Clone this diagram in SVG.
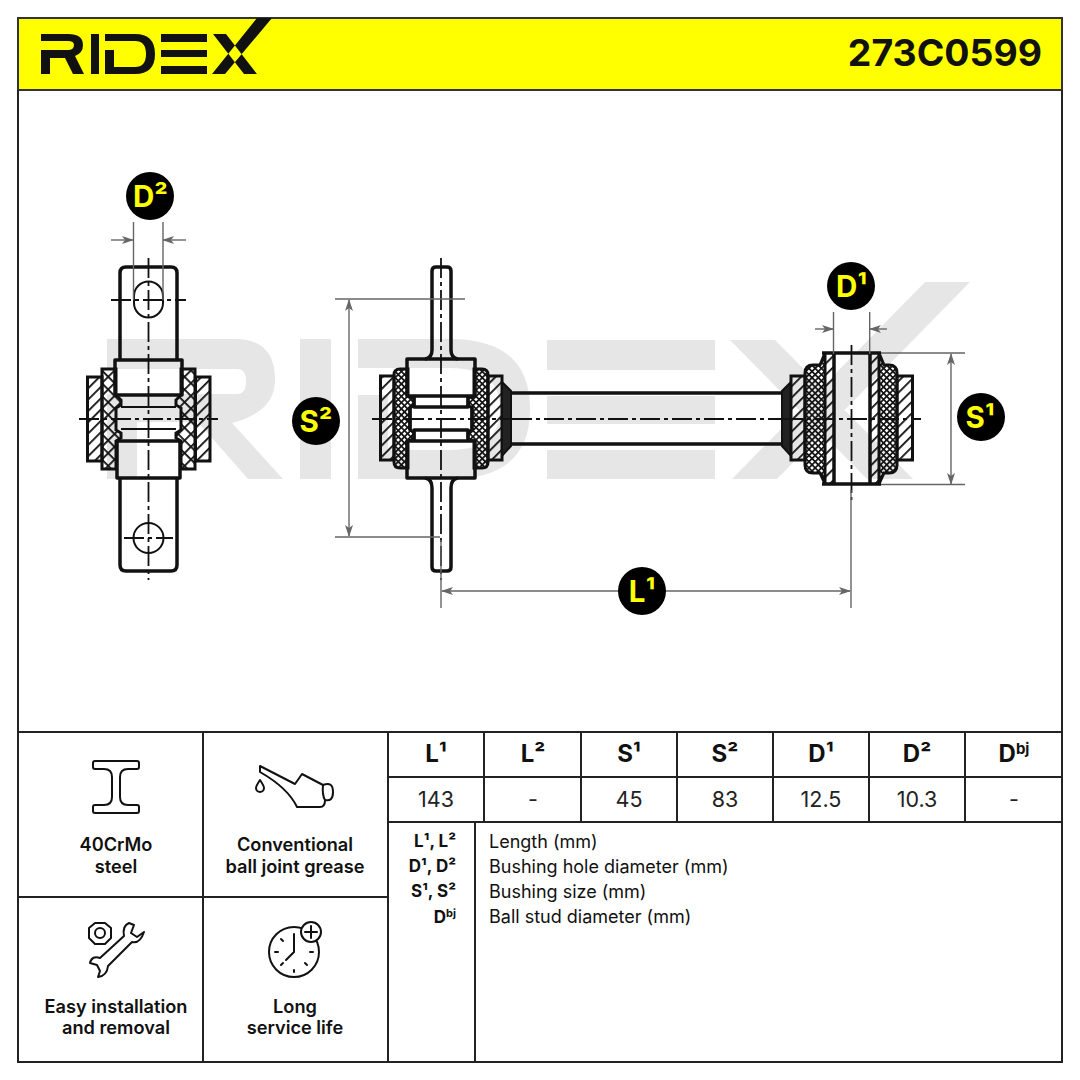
<svg xmlns="http://www.w3.org/2000/svg" width="1080" height="1080" viewBox="0 0 1080 1080">
<style>
text{font-family:Inter,"Liberation Sans",sans-serif;fill:#111}
.t{font-size:18.2px;font-weight:600;text-anchor:middle}
.h{font-size:24px;font-weight:700;text-anchor:middle}
.v{font-size:21.5px;text-anchor:middle;fill:#222}
.k{font-size:17px;font-weight:700;text-anchor:end}
.d{font-size:18px}
.b{font-size:29.500px;font-weight:700;fill:#ff0;text-anchor:middle}
.o{fill:none;stroke:#111;stroke-width:3.500;stroke-linejoin:round}
.n{fill:none;stroke:#111;stroke-width:2}
.c{fill:none;stroke:#111;stroke-width:1.800;stroke-dasharray:20 4 4 4}
.g{fill:none;stroke:#666;stroke-width:1.400}
.i{fill:none;stroke:#111;stroke-width:2;stroke-linejoin:round;stroke-linecap:round}
.l{fill:none;stroke:#222;stroke-width:2}
.ha{fill:url(#hatch);stroke:#111;stroke-width:3}
.hb{fill:url(#hatch);stroke:#111;stroke-width:1.500}
.cr{fill:url(#cross);stroke:#111;stroke-width:3}
.cf{fill:url(#fine);stroke:#111;stroke-width:3}
.bk{fill:#222;stroke:#111;stroke-width:2}
</style>
<defs>
<pattern id="hatch" width="8" height="8" patternUnits="userSpaceOnUse" patternTransform="rotate(45)"><rect width="1.800" height="8" fill="#111"/></pattern>
<pattern id="cross" width="9" height="9" patternUnits="userSpaceOnUse" patternTransform="rotate(45)"><rect width="1.800" height="9" fill="#111"/><rect width="9" height="1.800" fill="#111"/></pattern>
<pattern id="fine" width="4.400" height="4.400" patternUnits="userSpaceOnUse" patternTransform="rotate(45)"><rect width="1.700" height="4.400" fill="#111"/><rect width="4.400" height="1.700" fill="#111"/></pattern>
<marker id="ar" markerWidth="12" markerHeight="8" refX="11" refY="4" orient="auto-start-reverse" markerUnits="userSpaceOnUse"><path d="M0 0L12 4L0 8L3 4Z" fill="#666"/></marker>
</defs>
<rect width="1080" height="1080" fill="#fff"/>
<g id="watermark"><path fill="#e6e6e6" d="M107 339H235Q275 339 275 380Q275 412 232 423L283 479H248L198 422H137V479H107V394H237Q246 394 246 381Q246 369 237 369H107ZM300 339H331V479H300ZM358 339H450Q530 339 530 409Q530 479 450 479H358V395H388V450H450Q500 450 500 409Q500 368 450 368H358ZM547 340H715V370H547ZM547 396H715V424H547ZM547 450H715V479H547ZM730 340H775L913 479H867ZM925 282H970L777 479H732Z"/></g>
<g id="header">
<rect x="18" y="18" width="1044" height="72" fill="#ff0" stroke="#333" stroke-width="2"/>
<path fill="#111" d="M41 34H68Q83 34 83 45Q83 53 75 56L84 74H73L65 58H50V74H41V50H68Q74 50 74 45Q74 41 68 41H41ZM91 34H99V74H91ZM105 34H135Q155 34 155 54Q155 74 135 74H105V50H114V67H135Q146 67 146 54Q146 41 135 41H105ZM161 34H207V42H161ZM161 50H207V57H161ZM161 66H207V74H161ZM213 34H226L257 74H244ZM212 74H225L272 18H257Z"/>
<text x="1042" y="65.500" font-size="37.400" font-weight="700" text-anchor="end">273C0599</text>
</g>
<g id="view-left">
<path class="o" d="M120 360V273Q120 267 126 267H171Q177 267 177 273V360M120 478V565Q120 571 126 571H171Q177 571 177 565V478"/>
<path class="n" d="M134 296A14.500 14.500 0 0 1 163 296V303A14.500 14.500 0 0 1 134 303Z"/>
<circle class="n" cx="148.500" cy="538" r="15"/>
<rect class="ha" x="87.500" y="377" width="14.500" height="84"/><rect class="ha" x="195.500" y="377" width="14.500" height="84"/>
<path class="cr" d="M102 369H116V395L121 400V405L116 408V430L121 433V438L116 441V469H102Z"/>
<path class="cr" d="M195 369H181V395L176 400V405L181 408V430L176 433V438L181 441V469H195Z"/>
<path class="o" d="M115 360H182V395H115ZM117 441H180V478H117Z"/>
<path class="n" d="M121 407H176M121 429H176M116 407V429M181 407V429"/>
<path class="c" d="M148.500 258V580M79 419H218M111 300H186M124 538H173"/>
</g>
<g id="view-middle">
<path class="o" d="M432 350V271Q432 267 436 267H447Q451 267 451 271V350Q451 358 458 359M432 350Q432 358 425 359M432 488V567Q432 571 436 571H447Q451 571 451 567V488Q451 479 458 478M432 488Q432 479 425 478"/>
<rect class="ha" x="380.500" y="376" width="13.500" height="84"/><rect class="ha" x="488" y="376" width="14" height="84"/>
<path class="bk" d="M502 382L511 391V446L502 456Z"/>
<path class="cf" d="M400 369H408V396L414 398V405L410 408V430L414 432V439L408 441V468H400Q394 468 394 462V375Q394 369 400 369Z"/>
<path class="cf" d="M482 369H474V396L468 398V405L472 408V430L468 432V439L474 441V468H482Q488 468 488 462V375Q488 369 482 369Z"/>
<path class="o" d="M407 359H475V396H407ZM407 441H475V478H407ZM414 396V407H468V396M414 441V430H468V441M410 407V430M472 407V430"/>
<path class="c" d="M441 258V580M372 419H512"/>
</g>
<g id="view-shaft">
<path d="M511 393H782M511 444H782" class="o"/>
<path class="bk" d="M782 391L791 382V456L782 446Z"/>
<path class="c" d="M512 419H790"/>
</g>
<g id="view-right">
<rect class="ha" x="791" y="376" width="14" height="84"/><rect class="ha" x="897" y="376" width="15.500" height="84"/>
<path class="cf" d="M820 365H813Q805 365 805 373V465Q805 473 813 473H820L825 484V353Z"/>
<path class="cf" d="M884 365H889Q897 365 897 373V465Q897 473 889 473H884L879 484V353Z"/>
<path class="hb" d="M825 353H834V484H825Z"/><path class="hb" d="M870 353H879V484H870Z"/>
<path class="o" d="M822 353H881M822 484H881M834 354V483M870 354V483"/>
<path class="c" d="M851.500 345V500M783 419H921"/>
</g>
<g id="dimensions">
<path class="g" d="M133.500 222V300M163 222V300M833.500 312V354M869.700 312V354M881 353H965M881 484.500H965M335 299H465M335 537H440M441 540V608M851 490V608"/>
<path class="g" marker-end="url(#ar)" d="M111 240H133"/><path class="g" marker-end="url(#ar)" d="M186 240H163"/>
<path class="g" marker-end="url(#ar)" d="M815 329H833"/><path class="g" marker-end="url(#ar)" d="M887 329H870"/>
<path class="g" marker-start="url(#ar)" marker-end="url(#ar)" d="M951 354V484"/>
<path class="g" marker-start="url(#ar)" marker-end="url(#ar)" d="M349 300V536"/>
<path class="g" marker-start="url(#ar)" marker-end="url(#ar)" d="M442 591H850"/>
</g>
<g id="badge-d2"><circle cx="150" cy="196" r="24" fill="#000"/><text class="b" x="150.500" y="207">D²</text></g>
<g id="badge-d1"><circle cx="851" cy="286" r="24" fill="#000"/><text class="b" x="851.500" y="297">D¹</text></g>
<g id="badge-s1"><circle cx="981" cy="417" r="24" fill="#000"/><text class="b" x="980" y="428">S¹</text></g>
<g id="badge-s2"><circle cx="316" cy="421" r="24" fill="#000"/><text class="b" x="316" y="432">S²</text></g>
<g id="badge-l1"><circle cx="642" cy="591" r="24" fill="#000"/><text class="b" x="642" y="602">L¹</text></g>
<g id="table">
<path class="l" d="M18 90V1062H1062V90M18 732H1062"/>
<path class="l" d="M203 732V1062M388 732V1062M18 897H388M484 732V822M581 732V822M677 732V822M773 732V822M869 732V822M965 732V822M388 777H1062M388 822H1062M475 822V1062"/>
<text class="h" x="436" y="762">L¹</text><text class="h" x="533" y="762">L²</text><text class="h" x="629" y="762">S¹</text><text class="h" x="725" y="762">S²</text><text class="h" x="821" y="762">D¹</text><text class="h" x="917" y="762">D²</text>
<text class="h" x="1014" y="762">D<tspan font-size="15" dy="-8">bj</tspan></text>
<text class="v" x="436" y="807">143</text><text class="v" x="533" y="807">-</text><text class="v" x="629" y="807">45</text><text class="v" x="725" y="807">83</text><text class="v" x="821" y="807">12.5</text><text class="v" x="917" y="807">10.3</text><text class="v" x="1014" y="807">-</text>
<text class="k" x="456" y="847">L¹, L²</text><text class="k" x="456" y="872">D¹, D²</text><text class="k" x="456" y="897">S¹, S²</text>
<text class="k" x="456" y="923">D<tspan font-size="11" dy="-6">bj</tspan></text>
<text class="d" x="489" y="848">Length (mm)</text><text class="d" x="489" y="873">Bushing hole diameter (mm)</text><text class="d" x="489" y="898">Bushing size (mm)</text><text class="d" x="489" y="923">Ball stud diameter (mm)</text>
</g>
<g id="feature-steel">
<path class="i" d="M95 761H137Q139 761 139 763V767Q139 769 137 769H128Q120 769 120 777V797Q120 805 128 805H137Q139 805 139 807V811Q139 813 137 813H95Q93 813 93 811V807Q93 805 95 805H104Q112 805 112 797V777Q112 769 104 769H95Q93 769 93 767V763Q93 761 95 761Z"/>
<text class="t" x="116" y="851">40CrMo</text><text class="t" x="116" y="873">steel</text>
</g>
<g id="feature-grease">
<path class="i" d="M260 766L295 784L302 774L323 785Q322 795 325 800Q325 807 320 807H297Q288 788 260 772Z"/>
<path class="i" d="M323 785Q333 781 333 792Q333 802 325 800"/>
<path class="i" d="M260 780Q256 786 256 788A4 4 0 0 0 264 788Q264 786 260 780Z"/>
<text class="t" x="295" y="851">Conventional</text><text class="t" x="295" y="873">ball joint grease</text>
</g>
<g id="feature-install">
<path class="i" d="M95 923H105L111 928V938L105 944H95L89 938V928Z"/><circle class="i" cx="100" cy="933" r="5"/>
<path class="i" d="M129 923Q122 926 124 936L100 958Q92 955 90 963L97 965L100 971L98 977Q107 976 108 966L132 942Q140 944 144 932L137 937L131 933L134 925Z"/>
<text class="t" x="116" y="1013">Easy installation</text><text class="t" x="116" y="1034">and removal</text>
</g>
<g id="feature-life">
<circle class="i" cx="294" cy="952" r="25"/>
<circle cx="311" cy="932" r="10" fill="#fff" stroke="#111" stroke-width="2"/>
<path class="i" d="M311 926V938M305 932H317M294 934V952L286 960M294 970V972M275 952H278M310 952H313M281 939L283 941M307 965L305 963M281 965L283 963"/>
<text class="t" x="295" y="1013">Long</text><text class="t" x="295" y="1034">service life</text>
</g>
</svg>
